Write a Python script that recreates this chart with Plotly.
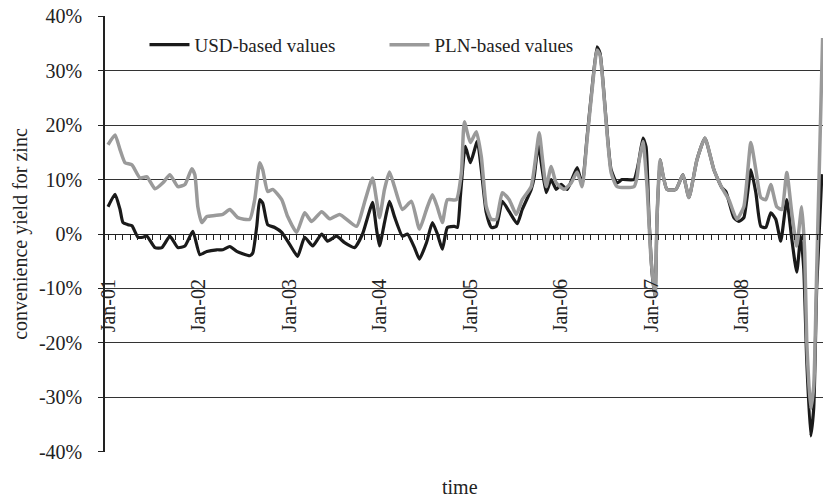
import numpy as np
import pandas as pd
import plotly.graph_objects as go

# time position of each point, in months since Jan-2001
usd_month = [0, 0.93, 1.59, 1.98, 2.65, 3.17, 3.97, 4.63, 5.16, 6.22, 7.14, 8.20, 9.26, 10.19, 11.24,
             12.17, 13.10, 14.42, 15.21, 16.14, 17.06, 18.78, 19.18, 19.71, 20.11, 20.50, 21.16, 22.09, 23.02,
             24.07, 25.13, 26.06, 27.12, 28.31, 29.10, 30.29, 31.35, 32.67, 33.73, 34.39, 35.05, 35.58, 35.98,
             36.64, 37.30, 37.96, 39.02, 39.68, 40.61, 41.27, 42.20, 42.99, 43.65, 44.31, 44.97, 45.90, 46.30,
             46.70, 47.35, 48.02, 48.94, 49.47, 50.13, 50.79, 51.46, 52.25, 53.17, 54.23, 54.89, 56.08, 56.48,
             57.01, 57.41, 58.07, 58.73, 59.39, 60.05, 60.85, 62.17, 62.83, 63.49, 64.15, 64.81, 65.21, 66.01,
             66.67, 67.46, 68.12, 69.71, 70.11, 70.37, 70.90, 71.30, 71.69, 72.09, 72.49, 72.75, 73.15, 73.54,
             74.07, 75.26, 76.19, 76.98, 78.04, 79.10, 80.29, 81.35, 81.88, 82.94, 83.60, 84.26, 85.19, 85.85,
             86.51, 87.17, 87.83, 88.49, 89.15, 89.95, 90.61, 91.27, 91.80, 92.20, 92.59, 93.12, 93.52, 93.92,
             94.60]
usd_values = [5.0, 7.3, 4.5, 2.1, 1.7, 1.5, -0.6, -0.6, -0.4, -2.5, -2.5, -0.4, -2.5, -2.2, 0.5,
              -3.8, -3.2, -2.9, -2.9, -2.3, -3.2, -4.0, -3.5, 1.4, 6.3, 5.7, 1.7, 1.2, 0.3,
              -1.9, -4.1, -0.6, -2.2, 0.0, -1.3, -0.4, -1.6, -2.5, 0.0, 3.0, 5.8, 0.9, -2.2,
              2.1, 6.0, 3.2, -0.4, 0.0, -2.5, -4.6, -1.6, 2.1, 0.0, -2.8, 1.2, 1.4, 1.2,
              7.0, 16.1, 13.1, 17.0, 11.8, 3.9, 1.2, 1.4, 6.0, 4.1, 1.9, 4.5, 8.2, 10.5,
              16.4, 13.1, 7.6, 10.0, 8.2, 9.1, 8.2, 12.2, 9.1, 17.9, 26.9, 34.4, 33.2, 20.9,
              11.8, 9.4, 10.0, 10.0, 11.8, 13.6, 17.6, 16.0, 3.0, -7.0, -11.5, 2.7, 13.6, 10.9,
              8.2, 8.2, 10.9, 6.7, 13.6, 17.6, 11.8, 8.5, 7.8, 3.0, 2.3, 3.0, 11.8, 7.6,
              1.4, 1.2, 3.9, 2.7, -1.3, 6.3, -0.9, -7.0, -0.4, -6.4, -23.0, -37.1, -32.0, -9.6,
              11.0]

pln_month = [0, 0.93, 1.59, 2.25, 3.17, 4.23, 5.16, 6.22, 7.28, 8.20, 9.26, 10.19, 11.11, 11.51, 11.90,
             12.43, 13.10, 14.15, 15.21, 16.14, 17.20, 18.78, 19.44, 20.11, 20.50, 21.16, 21.83, 23.02,
             23.81, 25.00, 26.06, 26.98, 28.31, 29.37, 30.69, 32.94, 33.99, 35.05, 35.58, 35.98, 36.64,
             37.30, 37.96, 39.02, 40.21, 41.27, 42.20, 42.99, 43.65, 44.31, 44.97, 46.16, 46.83, 47.22,
             48.02, 48.81, 49.47, 50.13, 50.79, 51.46, 52.25, 53.17, 54.10, 54.89, 56.08, 57.14, 57.54,
             58.07, 58.73, 59.39, 60.45, 61.38, 62.17, 62.83, 63.49, 64.15, 64.81, 65.21, 66.01, 66.67,
             67.46, 69.71, 70.11, 70.37, 70.90, 71.43, 71.96, 72.49, 72.75, 73.15, 73.54, 74.07, 75.26,
             76.19, 76.98, 78.04, 79.10, 80.29, 81.35, 82.28, 83.33, 84.26, 85.19, 85.85, 86.51, 87.17,
             87.83, 88.62, 89.29, 89.95, 90.61, 91.27, 91.93, 92.33, 92.59, 93.12, 93.52, 93.92, 94.70]
pln_values = [16.4, 18.2, 15.5, 13.1, 12.7, 10.3, 10.5, 8.3, 9.4, 10.9, 8.7, 9.1, 12.0, 10.9, 5.0,
              2.1, 3.2, 3.4, 3.6, 4.5, 3.0, 2.7, 6.3, 13.1, 11.8, 7.8, 8.2, 6.3,
              3.2, 0.3, 3.9, 2.3, 4.1, 2.8, 3.6, 1.4, 5.8, 10.3, 6.3, 3.0, 8.2,
              11.4, 8.7, 4.5, 6.0, 0.9, 4.5, 7.2, 4.9, 2.1, 6.3, 6.3, 11.3, 20.6,
              16.8, 18.8, 14.2, 5.0, 2.7, 2.7, 7.6, 6.3, 3.6, 6.3, 8.7, 18.6, 14.2,
              8.7, 12.4, 9.4, 8.2, 9.4, 11.4, 8.7, 17.4, 26.5, 33.8, 32.8, 20.5, 11.3,
              8.7, 8.7, 10.5, 13.3, 17.0, 8.7, -4.6, -11.5, 2.7, 13.6, 10.9, 8.2, 8.2,
              10.9, 6.7, 13.6, 17.6, 11.8, 8.5, 6.3, 2.7, 5.0, 16.8, 11.8, 6.7, 6.3,
              9.1, 5.0, 4.5, 11.3, 3.9, -2.2, 5.0, -3.5, -19.5, -32.1, -28.0, -6.4, 36.0]

y_tickvals = [-0.4, -0.3, -0.2, -0.1, 0.0, 0.1, 0.2, 0.3, 0.4]
y_ticktext = ["-40%", "-30%", "-20%", "-10%", "0%", "10%", "20%", "30%", "40%"]

start = pd.Timestamp("2001-01-01")


def to_dates(months):
    return start + pd.to_timedelta(np.array(months) * 30.4375, unit="D")


FONT = "Liberation Serif"

fig = go.Figure()
fig.add_trace(go.Scatter(
    x=to_dates(usd_month), y=np.array(usd_values) / 100, mode="lines",
    name="USD-based values",
    line=dict(color="#1a1a1a", width=3.2, shape="spline", smoothing=0.5),
))
fig.add_trace(go.Scatter(
    x=to_dates(pln_month), y=np.array(pln_values) / 100, mode="lines",
    name="PLN-based values",
    line=dict(color="#9a9a9a", width=3.5, shape="spline", smoothing=0.5),
))

fig.update_layout(
    width=825, height=500,
    margin=dict(l=105, r=2, t=16, b=48, autoexpand=False),
    paper_bgcolor="white", plot_bgcolor="white",
    font=dict(family=FONT, size=20, color="#222"),
    showlegend=True,
    legend=dict(orientation="h", x=0.055, y=0.934, xanchor="left", yanchor="middle",
                font=dict(family=FONT, size=19, color="#222"), bgcolor="rgba(0,0,0,0)",
                entrywidth=185, itemwidth=40),
    xaxis=dict(
        type="date", automargin=False,
        range=[to_dates([-0.4])[0], to_dates([94.75])[0]],
        anchor="free", position=0.5,
        showline=True, linecolor="#222", linewidth=1,
        showgrid=False, zeroline=False,
        tick0="2001-01-01", dtick="M12", tickformat="%b-%y",
        tickangle=-90, ticks="outside", ticklen=5, tickcolor="#222",
        ticklabelstandoff=31,
        minor=dict(dtick="M1", ticks="outside", ticklen=5, tickcolor="#222", showgrid=False),
        tickfont=dict(family=FONT, size=20, color="#222"),
    ),
    yaxis=dict(
        range=[-0.4005, 0.4005], automargin=False,
        tickvals=y_tickvals, ticktext=y_ticktext,
        showline=True, linecolor="#222", linewidth=1.5,
        ticks="outside", ticklen=5, tickcolor="#222",
        showgrid=True, gridcolor="#333", gridwidth=1,
        zeroline=False,
        ticklabelstandoff=12,
        tickfont=dict(family=FONT, size=20, color="#222"),
        title=dict(text="convenience yield for zinc", font=dict(family=FONT, size=20, color="#222"),
                   standoff=6),
    ),
    annotations=[dict(text="time", xref="paper", yref="paper", x=0.495, y=-0.08,
                      xanchor="center", yanchor="middle", showarrow=False,
                      font=dict(family=FONT, size=20, color="#222"))],
)

fig.write_html("out.html", config={"displayModeBar": False},
               post_script="document.body.style.margin='0px';")
